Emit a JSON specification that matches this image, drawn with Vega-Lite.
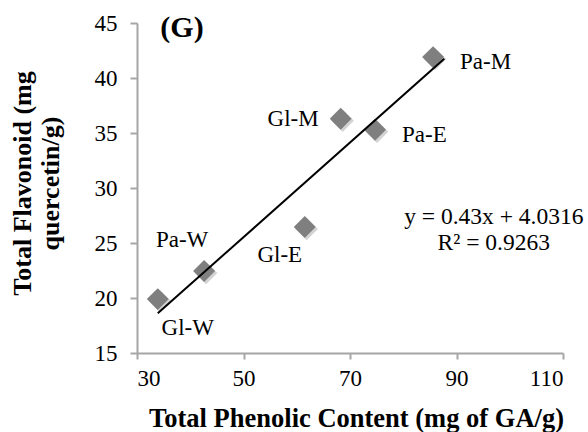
{
  "$schema": "https://vega.github.io/schema/vega-lite/v6.json",
  "width": 426,
  "height": 330,
  "autosize": "none",
  "padding": {"left": 137, "top": 23, "right": 25, "bottom": 79},
  "background": "white",
  "config": {"view": {"stroke": null}, "font": "Liberation Serif"},
  "datasets": {
    "pts": [
      {"x": 33.9, "y": 19.9, "label": "Gl-W"},
      {"x": 42.6, "y": 22.45, "label": "Pa-W"},
      {"x": 61.5, "y": 26.45, "label": "Gl-E"},
      {"x": 68.25, "y": 36.3, "label": "Gl-M"},
      {"x": 74.7, "y": 35.3, "label": "Pa-E"},
      {"x": 85.6, "y": 41.9, "label": "Pa-M"}
    ],
    "trend": [
      {"x": 33.9, "y": 18.61},
      {"x": 87.7, "y": 41.74}
    ],
    "one": [{}]
  },
  "layer": [
    {
      "data": {"name": "pts"},
      "mark": {"type": "point", "shape": "diamond", "filled": true, "size": 500, "color": "#b5b5b5", "opacity": 0.6},
      "encoding": {
        "x": {
          "field": "x", "type": "quantitative",
          "scale": {"domain": [30, 110], "nice": false, "zero": false},
          "axis": {
            "values": [30, 50, 70, 90, 110], "grid": false,
            "domainColor": "#a6a6a6", "domainWidth": 2, "tickColor": "#a6a6a6", "tickWidth": 2, "tickSize": 6,
            "labelFontSize": 23, "labelColor": "black", "labelPadding": 8,
            "title": "Total Phenolic Content (mg of GA/g)", "titleFontSize": 26.5, "titleFontWeight": "bold", "titleColor": "black",
            "titleY": 65, "titleBaseline": "middle", "titleX": 219
          }
        },
        "y": {
          "field": "y", "type": "quantitative",
          "scale": {"domain": [15, 45], "nice": false, "zero": false},
          "axis": {
            "values": [15, 20, 25, 30, 35, 40, 45], "grid": false,
            "domainColor": "#a6a6a6", "domainWidth": 2, "tickColor": "#a6a6a6", "tickWidth": 2, "tickSize": 7,
            "labelFontSize": 23, "labelColor": "black", "labelPadding": 13,
            "title": ["Total Flavonoid (mg", "quercetin/g)"], "titleFontSize": 26, "titleFontWeight": "bold", "titleColor": "black",
            "titleX": -115, "titleY": 160, "titleBaseline": "middle", "titleAngle": -90, "titleLineHeight": 28
          }
        },
        "xOffset": {"value": 2},
        "yOffset": {"value": 2}
      }
    },
    {
      "data": {"name": "pts"},
      "mark": {"type": "point", "shape": "diamond", "filled": true, "size": 480, "color": "#7f7f7f", "opacity": 1},
      "encoding": {
        "x": {"field": "x", "type": "quantitative"},
        "y": {"field": "y", "type": "quantitative"}
      }
    },
    {
      "data": {"name": "trend"},
      "mark": {"type": "line", "color": "black", "strokeWidth": 2},
      "encoding": {
        "x": {"field": "x", "type": "quantitative"},
        "y": {"field": "y", "type": "quantitative"}
      }
    },
    {
      "data": {"name": "pts"},
      "transform": [{"filter": "datum.label === 'Pa-M' || datum.label === 'Pa-E'"}],
      "mark": {"type": "text", "align": "left", "baseline": "middle", "dx": 27, "dy": 5, "fontSize": 23, "color": "black"},
      "encoding": {
        "x": {"field": "x", "type": "quantitative"},
        "y": {"field": "y", "type": "quantitative"},
        "text": {"field": "label"}
      }
    },
    {
      "data": {"name": "pts"},
      "transform": [{"filter": "datum.label === 'Gl-M'"}],
      "mark": {"type": "text", "align": "right", "baseline": "middle", "dx": -22, "dy": 0, "fontSize": 23, "color": "black"},
      "encoding": {
        "x": {"field": "x", "type": "quantitative"},
        "y": {"field": "y", "type": "quantitative"},
        "text": {"field": "label"}
      }
    },
    {
      "data": {"name": "pts"},
      "transform": [{"filter": "datum.label === 'Gl-E'"}],
      "mark": {"type": "text", "align": "center", "baseline": "middle", "dx": -25, "dy": 28, "fontSize": 23, "color": "black"},
      "encoding": {
        "x": {"field": "x", "type": "quantitative"},
        "y": {"field": "y", "type": "quantitative"},
        "text": {"field": "label"}
      }
    },
    {
      "data": {"name": "pts"},
      "transform": [{"filter": "datum.label === 'Pa-W'"}],
      "mark": {"type": "text", "align": "center", "baseline": "middle", "dx": -22, "dy": -31, "fontSize": 23, "color": "black"},
      "encoding": {
        "x": {"field": "x", "type": "quantitative"},
        "y": {"field": "y", "type": "quantitative"},
        "text": {"field": "label"}
      }
    },
    {
      "data": {"name": "pts"},
      "transform": [{"filter": "datum.label === 'Gl-W'"}],
      "mark": {"type": "text", "align": "center", "baseline": "middle", "dx": 30, "dy": 29, "fontSize": 23, "color": "black"},
      "encoding": {
        "x": {"field": "x", "type": "quantitative"},
        "y": {"field": "y", "type": "quantitative"},
        "text": {"field": "label"}
      }
    },
    {
      "data": {"name": "one"},
      "mark": {"type": "text", "align": "center", "baseline": "middle", "fontSize": 23.5, "color": "black"},
      "encoding": {
        "x": {"datum": 97.0, "type": "quantitative"},
        "y": {"datum": 27.4, "type": "quantitative"},
        "text": {"value": "y = 0.43x + 4.0316"}
      }
    },
    {
      "data": {"name": "one"},
      "mark": {"type": "text", "align": "center", "baseline": "middle", "fontSize": 23.5, "color": "black"},
      "encoding": {
        "x": {"datum": 97.0, "type": "quantitative"},
        "y": {"datum": 25.0, "type": "quantitative"},
        "text": {"value": "R² = 0.9263"}
      }
    },
    {
      "data": {"name": "one"},
      "mark": {"type": "text", "align": "center", "baseline": "middle", "fontSize": 30, "fontWeight": "bold", "color": "black"},
      "encoding": {
        "x": {"datum": 38.45, "type": "quantitative"},
        "y": {"datum": 44.55, "type": "quantitative"},
        "text": {"value": "(G)"}
      }
    }
  ]
}
